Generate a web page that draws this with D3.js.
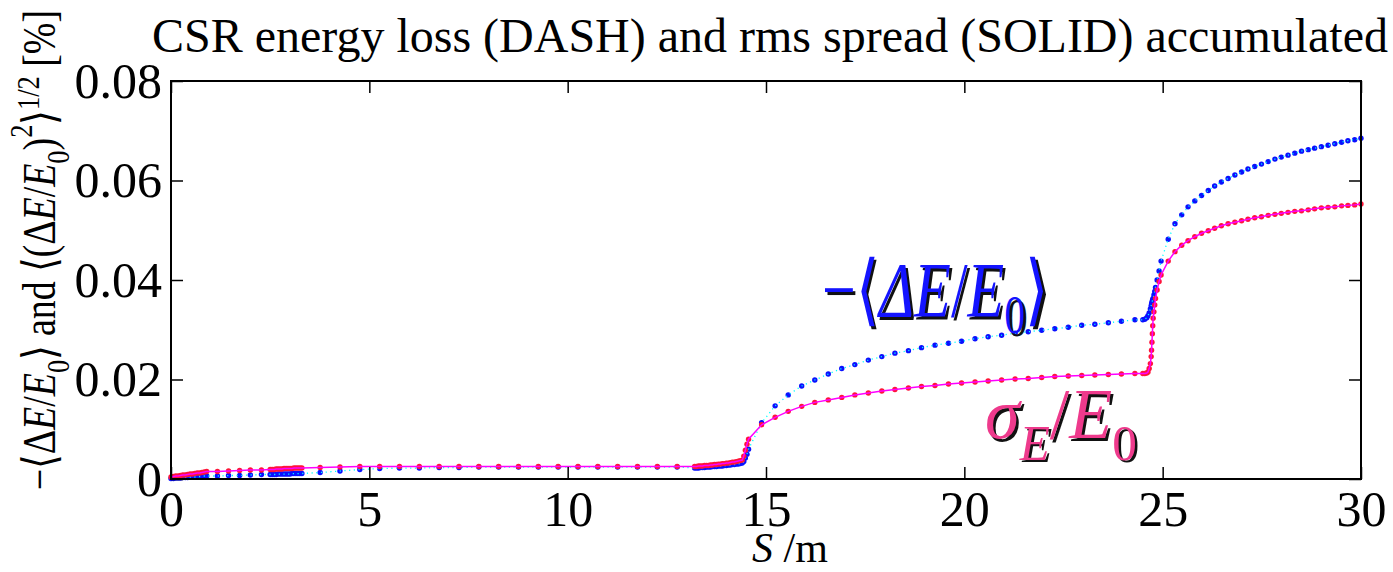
<!DOCTYPE html>
<html><head><meta charset="utf-8">
<script src="https://cdn.jsdelivr.net/npm/d3@7"></script>
<style>
html,body{margin:0;padding:0;background:#fff;}
svg{display:block;}
text{font-family:"Liberation Serif","Times New Roman",serif;}
</style></head><body>
<svg id="chart" width="1393" height="572"></svg>
<script>
// Beam-line position S [m] at each tracking step
const sPos = [
  0.00,0.06,0.12,0.18,0.24,0.30,0.36,0.42,0.48,0.54,0.60,0.66,0.72,0.78,0.84,0.90,
  1.17,1.45,1.73,2.00,2.28,
  2.50,2.55,2.60,2.65,2.70,2.75,2.80,2.85,2.90,2.95,3.00,3.05,3.10,3.15,3.20,3.25,3.30,
  3.76,4.26,4.76,5.26,5.76,6.26,6.76,7.26,7.76,8.26,8.76,9.26,9.76,10.26,10.76,11.26,11.76,12.26,12.76,
  13.20,13.25,13.30,13.35,13.40,13.45,13.50,13.55,13.60,13.65,13.70,13.75,13.80,13.85,13.90,13.95,14.00,14.05,14.10,14.15,14.20,14.25,14.30,14.35,14.40,
  14.44,14.48,14.52,14.56,
  14.89,15.23,15.56,15.90,16.23,16.57,16.91,17.24,17.58,17.92,18.25,18.59,18.92,19.26,19.60,19.93,20.27,20.60,20.94,21.28,21.61,21.95,22.28,22.62,22.96,23.29,23.63,23.96,24.30,
  24.50,24.55,24.60,24.63,24.66,24.69,24.71,24.72,24.73,24.74,24.75,24.76,24.78,24.80,24.82,24.86,24.91,24.96,
  25.14,25.31,25.48,25.64,25.81,25.98,26.15,26.31,26.48,26.65,26.82,26.99,27.15,27.32,27.49,27.66,27.83,27.99,28.16,28.33,28.50,28.67,28.83,29.00,29.17,29.34,29.51,29.67,29.84,30.00
];

// -<dE/E0> [%], mean CSR energy loss (dotted)
const energyLoss = [
  0.0001,0.0001,0.0002,0.0002,0.0002,0.0003,0.0003,0.0003,0.0004,0.0004,0.0004,0.0005,0.0005,0.0005,0.0006,0.0006,
  0.0006,0.0007,0.0007,0.0008,0.0009,
  0.0009,0.0009,0.0009,0.0009,0.0010,0.0010,0.0010,0.0010,0.0010,0.0010,0.0010,0.0011,0.0011,0.0011,0.0011,0.0011,0.0011,
  0.0013,0.0016,0.0019,0.0021,0.0022,0.0022,0.0023,0.0023,0.0024,0.0024,0.0024,0.0024,0.0024,0.0024,0.0024,0.0024,0.0024,0.0024,0.0024,
  0.0022,0.0022,0.0022,0.0023,0.0023,0.0023,0.0024,0.0024,0.0024,0.0025,0.0025,0.0025,0.0026,0.0026,0.0026,0.0027,0.0027,0.0028,0.0028,0.0029,0.0029,0.0030,0.0030,0.0031,0.0032,
  0.0035,0.0042,0.0050,0.0060,
  0.0113,0.0147,0.0169,0.0187,0.0199,0.0211,0.0222,0.0230,0.0239,0.0246,0.0253,0.0258,0.0264,0.0269,0.0273,0.0277,0.0282,0.0286,0.0289,0.0293,0.0296,0.0299,0.0302,0.0305,0.0309,0.0311,0.0314,0.0317,0.0320,
  0.0320,0.0321,0.0324,0.0328,0.0334,0.0342,0.0348,0.0352,0.0355,0.0358,0.0361,0.0363,0.0370,0.0377,0.0385,0.0400,0.0418,0.0438,
  0.0482,0.0513,0.0531,0.0547,0.0559,0.0570,0.0580,0.0589,0.0597,0.0604,0.0611,0.0617,0.0623,0.0628,0.0633,0.0638,0.0643,0.0647,0.0651,0.0655,0.0659,0.0662,0.0665,0.0668,0.0671,0.0674,0.0677,0.0680,0.0682,0.0685
];

// <(dE/E0)^2>^(1/2) [%], rms energy spread (solid)
const energySpread = [
  0.0004,0.0005,0.0006,0.0006,0.0007,0.0008,0.0008,0.0009,0.0010,0.0010,0.0011,0.0012,0.0012,0.0013,0.0014,0.0015,
  0.0015,0.0016,0.0017,0.0018,0.0018,
  0.0019,0.0019,0.0019,0.0020,0.0020,0.0020,0.0020,0.0021,0.0021,0.0021,0.0021,0.0021,0.0022,0.0022,0.0022,0.0022,0.0022,
  0.0023,0.0024,0.0025,0.0025,0.0025,0.0025,0.0025,0.0025,0.0025,0.0025,0.0025,0.0025,0.0025,0.0025,0.0025,0.0025,0.0025,0.0025,0.0025,
  0.0025,0.0025,0.0026,0.0026,0.0026,0.0027,0.0027,0.0027,0.0028,0.0028,0.0029,0.0029,0.0030,0.0030,0.0031,0.0031,0.0032,0.0032,0.0033,0.0034,0.0034,0.0035,0.0036,0.0037,0.0038,
  0.0046,0.0058,0.0070,0.0080,
  0.0109,0.0124,0.0136,0.0146,0.0154,0.0159,0.0164,0.0169,0.0173,0.0177,0.0180,0.0183,0.0186,0.0188,0.0191,0.0193,0.0195,0.0197,0.0199,0.0201,0.0202,0.0204,0.0206,0.0207,0.0208,0.0209,0.0210,0.0211,0.0212,
  0.0212,0.0212,0.0213,0.0215,0.0222,0.0232,0.0246,0.0259,0.0275,0.0292,0.0308,0.0323,0.0336,0.0350,0.0363,0.0380,0.0397,0.0410,
  0.0438,0.0457,0.0470,0.0479,0.0487,0.0494,0.0499,0.0504,0.0509,0.0513,0.0516,0.0519,0.0522,0.0525,0.0527,0.0530,0.0532,0.0534,0.0536,0.0538,0.0539,0.0541,0.0543,0.0545,0.0546,0.0547,0.0549,0.0550,0.0551,0.0553
];

const xTicks = [0, 5, 10, 15, 20, 25, 30];
const yTicks = [0, 0.02, 0.04, 0.06, 0.08];
const titleText = "CSR energy loss (DASH) and rms spread (SOLID) accumulated";

const svg = d3.select("#chart");
const plot = {left: 171, right: 1361, top: 81, bottom: 479};

const x = d3.scaleLinear().domain([0, 30]).range([plot.left, plot.right]);
const y = d3.scaleLinear().domain([0, 0.08]).range([plot.bottom, plot.top]);

const lossPts = sPos.map((s, i) => [s, energyLoss[i]]);
const spreadPts = sPos.map((s, i) => [s, energySpread[i]]);
const line = d3.line().x(d => x(d[0])).y(d => y(d[1]));

// series: loss dots + cyan dotted connector, spread dots + magenta solid line
const series = svg.append("g");
series.selectAll("circle.loss").data(lossPts).join("circle")
  .attr("class", "loss").attr("cx", d => x(d[0])).attr("cy", d => y(d[1]))
  .attr("r", 2.7).attr("fill", "#0a10ff");
series.append("path").datum(lossPts).attr("d", line)
  .attr("fill", "none").attr("stroke", "#00ffff").attr("stroke-width", 1.3)
  .attr("stroke-dasharray", "1.2,3.5");
series.selectAll("circle.spread").data(spreadPts).join("circle")
  .attr("class", "spread").attr("cx", d => x(d[0])).attr("cy", d => y(d[1]))
  .attr("r", 2.7).attr("fill", "#ff1438");
series.append("path").datum(spreadPts).attr("d", line)
  .attr("fill", "none").attr("stroke", "#ff00ff").attr("stroke-width", 1.5);

// frame and ticks on all four sides
const fmtY = d => d === 0 ? "0" : d3.format(".2f")(d);
const axFont = 50;
const gl = svg.append("g").attr("transform", `translate(${plot.left},0)`)
  .call(d3.axisLeft(y).tickValues(yTicks).tickFormat(fmtY).tickSizeInner(-12).tickSizeOuter(0).tickPadding(9));
const gb = svg.append("g").attr("transform", `translate(0,${plot.bottom})`)
  .call(d3.axisBottom(x).tickValues(xTicks).tickFormat(d3.format("d")).tickSizeInner(-12).tickSizeOuter(0).tickPadding(11));
const gr = svg.append("g").attr("transform", `translate(${plot.right},0)`)
  .call(d3.axisRight(y).tickValues(yTicks).tickFormat("").tickSizeInner(-12).tickSizeOuter(0));
const gt = svg.append("g").attr("transform", `translate(0,${plot.top})`)
  .call(d3.axisTop(x).tickValues(xTicks).tickFormat("").tickSizeInner(-12).tickSizeOuter(0));
[gl, gb, gr, gt].forEach(g => {
  g.select(".domain").remove();
  g.selectAll("line").attr("stroke", "#000").attr("stroke-width", 1.5);
  g.selectAll("text").attr("font-size", axFont).attr("fill", "#000")
    .attr("font-family", '"Liberation Serif", serif');
});
svg.append("rect").attr("x", plot.left).attr("y", plot.top)
  .attr("width", plot.right - plot.left).attr("height", plot.bottom - plot.top)
  .attr("fill", "none").attr("stroke", "#000").attr("stroke-width", 2);

// title
svg.append("text").attr("x", 152).attr("y", 52).attr("font-size", 48)
  .attr("textLength", 1236).attr("lengthAdjust", "spacingAndGlyphs")
  .text(titleText);

// rich text helper: parts with italic / size / vertical shift (in em)
function richText(parent, parts, fontSize) {
  const t = parent.append("text").attr("font-size", fontSize);
  let cur = 0;
  parts.forEach(p => {
    const fs = (p.s || 1) * fontSize;
    const shift = (p.shift || 0) * fontSize;
    const ts = t.append("tspan").text(p.t).attr("dy", shift - cur);
    cur = shift;
    if (p.i) ts.attr("font-style", "italic");
    if (p.s) ts.attr("font-size", fs);
  });
  return t;
}
function fitWidth(t, w) {
  const b = t.node().getBBox();
  t.attr("transform", `scale(${w / b.width},1)`);
}

// y-axis label
const yLab = [
  {t: "\u2212\u27E8\u0394"}, {t: "E", i: 1}, {t: "/"}, {t: "E", i: 1}, {t: "0", s: 0.7, shift: 0.3},
  {t: "\u27E9 and \u27E8(\u0394"}, {t: "E", i: 1}, {t: "/"}, {t: "E", i: 1}, {t: "0", s: 0.7, shift: 0.3},
  {t: ")"}, {t: "2", s: 0.7, shift: -0.5}, {t: "\u27E9"}, {t: "1/2", s: 0.7, shift: -0.35}, {t: " [%]"}
];
const yg = svg.append("g").attr("transform", "translate(55,250) rotate(-90)");
const yt = richText(yg, yLab, 46).attr("text-anchor", "middle");
fitWidth(yt, 482);

// in-plot labels with a dark drop shadow
function shadowLabel(px, py, parts, size, color, width) {
  const g = svg.append("g").attr("transform", `translate(${px},${py})`);
  const sh = richText(g.append("g").attr("transform", "translate(2.5,2.5)"), parts, size).attr("fill", "#111");
  const fg = richText(g, parts, size).attr("fill", color);
  fitWidth(sh, width);
  fitWidth(fg, width);
}
shadowLabel(822, 316, [
  {t: "\u2212\u27E8"}, {t: "\u0394E", i: 1}, {t: "/"}, {t: "E", i: 1}, {t: "0", s: 0.7, shift: 0.22}, {t: "\u27E9"}
], 78, "#1414ff", 226);
shadowLabel(985, 438, [
  {t: "\u03C3", i: 1}, {t: "E", i: 1, s: 0.7, shift: 0.3}, {t: "/"}, {t: "E", i: 1}, {t: "0", s: 0.7, shift: 0.3}
], 72, "#ee3a8c", 152);

// x-axis label
svg.append("text").attr("x", 790).attr("y", 562).attr("text-anchor", "middle").attr("font-size", 42)
  .call(t => { t.append("tspan").attr("font-style", "italic").text("S"); t.append("tspan").text(" /m"); });
</script>
</body></html>
